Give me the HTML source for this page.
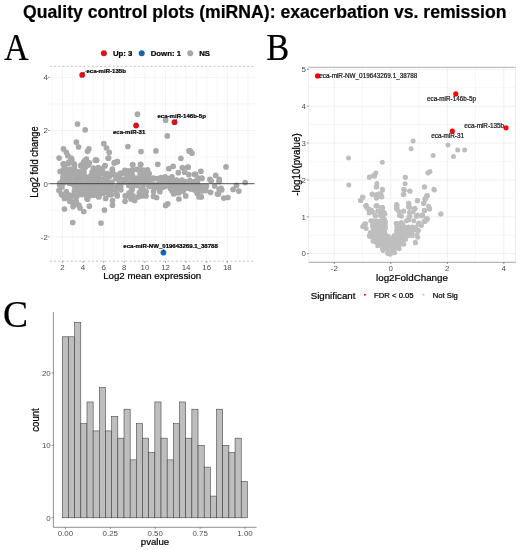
<!DOCTYPE html><html><head><meta charset="utf-8"><style>html,body{margin:0;padding:0;background:#fff;width:520px;height:550px;overflow:hidden}svg{display:block;will-change:transform;filter:blur(0.4px)}text{stroke-width:0.22px;stroke-linejoin:round}text[fill="#000"]{stroke:#000}text[fill="#1a1a1a"]{stroke:#1a1a1a}</style></head><body>
<svg width="520" height="550" viewBox="0 0 520 550">
<rect width="520" height="550" fill="#fff"/>
<text x="264.8" y="17.7" text-anchor="middle" font-family="Liberation Sans, sans-serif" font-weight="bold" font-size="17.62" fill="#000">Quality control plots (miRNA): exacerbation vs. remission</text>
<text transform="translate(4.0,59.6) scale(0.91,1)" font-family="Liberation Serif, serif" font-size="37.5" fill="#000">A</text>
<text transform="translate(266.2,59.8) scale(0.92,1)" font-family="Liberation Serif, serif" font-size="37.5" fill="#000">B</text>
<text x="3.0" y="326.8" font-family="Liberation Serif, serif" font-size="37.5" fill="#000">C</text>
<line x1="52.11" y1="66.3" x2="52.11" y2="261.2" stroke="#EFEFEF" stroke-width="0.45"/>
<line x1="62.42" y1="66.3" x2="62.42" y2="261.2" stroke="#EFEFEF" stroke-width="0.7"/>
<line x1="72.73" y1="66.3" x2="72.73" y2="261.2" stroke="#EFEFEF" stroke-width="0.45"/>
<line x1="83.04" y1="66.3" x2="83.04" y2="261.2" stroke="#EFEFEF" stroke-width="0.7"/>
<line x1="93.35" y1="66.3" x2="93.35" y2="261.2" stroke="#EFEFEF" stroke-width="0.45"/>
<line x1="103.66" y1="66.3" x2="103.66" y2="261.2" stroke="#EFEFEF" stroke-width="0.7"/>
<line x1="113.97" y1="66.3" x2="113.97" y2="261.2" stroke="#EFEFEF" stroke-width="0.45"/>
<line x1="124.28" y1="66.3" x2="124.28" y2="261.2" stroke="#EFEFEF" stroke-width="0.7"/>
<line x1="134.59" y1="66.3" x2="134.59" y2="261.2" stroke="#EFEFEF" stroke-width="0.45"/>
<line x1="144.90" y1="66.3" x2="144.90" y2="261.2" stroke="#EFEFEF" stroke-width="0.7"/>
<line x1="155.21" y1="66.3" x2="155.21" y2="261.2" stroke="#EFEFEF" stroke-width="0.45"/>
<line x1="165.52" y1="66.3" x2="165.52" y2="261.2" stroke="#EFEFEF" stroke-width="0.7"/>
<line x1="175.83" y1="66.3" x2="175.83" y2="261.2" stroke="#EFEFEF" stroke-width="0.45"/>
<line x1="186.14" y1="66.3" x2="186.14" y2="261.2" stroke="#EFEFEF" stroke-width="0.7"/>
<line x1="196.45" y1="66.3" x2="196.45" y2="261.2" stroke="#EFEFEF" stroke-width="0.45"/>
<line x1="206.76" y1="66.3" x2="206.76" y2="261.2" stroke="#EFEFEF" stroke-width="0.7"/>
<line x1="217.07" y1="66.3" x2="217.07" y2="261.2" stroke="#EFEFEF" stroke-width="0.45"/>
<line x1="227.38" y1="66.3" x2="227.38" y2="261.2" stroke="#EFEFEF" stroke-width="0.7"/>
<line x1="237.69" y1="66.3" x2="237.69" y2="261.2" stroke="#EFEFEF" stroke-width="0.45"/>
<line x1="248.00" y1="66.3" x2="248.00" y2="261.2" stroke="#EFEFEF" stroke-width="0.7"/>
<line x1="49.8" y1="236.90" x2="254.5" y2="236.90" stroke="#EDEDED" stroke-width="0.75"/>
<line x1="49.8" y1="210.30" x2="254.5" y2="210.30" stroke="#EDEDED" stroke-width="0.5"/>
<line x1="49.8" y1="183.70" x2="254.5" y2="183.70" stroke="#EDEDED" stroke-width="0.75"/>
<line x1="49.8" y1="157.10" x2="254.5" y2="157.10" stroke="#EDEDED" stroke-width="0.5"/>
<line x1="49.8" y1="130.50" x2="254.5" y2="130.50" stroke="#EDEDED" stroke-width="0.75"/>
<line x1="49.8" y1="103.90" x2="254.5" y2="103.90" stroke="#EDEDED" stroke-width="0.5"/>
<line x1="49.8" y1="77.30" x2="254.5" y2="77.30" stroke="#EDEDED" stroke-width="0.75"/>
<line x1="49.8" y1="66.3" x2="254.5" y2="66.3" stroke="#9a9a9a" stroke-width="0.6" stroke-dasharray="2,2.2"/>
<line x1="49.8" y1="261.2" x2="254.5" y2="261.2" stroke="#9a9a9a" stroke-width="0.6" stroke-dasharray="2,2.2"/>
<circle cx="77.5" cy="124.0" r="2.85" fill="#A9A9A9"/>
<circle cx="85.2" cy="129.8" r="2.85" fill="#A9A9A9"/>
<circle cx="137.5" cy="114.2" r="2.85" fill="#A9A9A9"/>
<circle cx="165.6" cy="120.3" r="2.85" fill="#A9A9A9"/>
<circle cx="167.3" cy="135.9" r="2.85" fill="#A9A9A9"/>
<circle cx="76.4" cy="142.2" r="2.85" fill="#A9A9A9"/>
<circle cx="78.6" cy="147.0" r="2.85" fill="#A9A9A9"/>
<circle cx="63.5" cy="148.9" r="2.85" fill="#A9A9A9"/>
<circle cx="66.3" cy="152.3" r="2.85" fill="#A9A9A9"/>
<circle cx="88.9" cy="148.9" r="2.85" fill="#A9A9A9"/>
<circle cx="87.5" cy="151.3" r="2.85" fill="#A9A9A9"/>
<circle cx="59.1" cy="158.1" r="2.85" fill="#A9A9A9"/>
<circle cx="67.8" cy="155.7" r="2.85" fill="#A9A9A9"/>
<circle cx="71.2" cy="158.1" r="2.85" fill="#A9A9A9"/>
<circle cx="96.2" cy="160.2" r="2.85" fill="#A9A9A9"/>
<circle cx="86.5" cy="159.0" r="2.85" fill="#A9A9A9"/>
<circle cx="63.5" cy="163.8" r="2.85" fill="#A9A9A9"/>
<circle cx="74.0" cy="163.8" r="2.85" fill="#A9A9A9"/>
<circle cx="83.7" cy="161.9" r="2.85" fill="#A9A9A9"/>
<circle cx="89.4" cy="162.9" r="2.85" fill="#A9A9A9"/>
<circle cx="80.8" cy="165.8" r="2.85" fill="#A9A9A9"/>
<circle cx="86.5" cy="165.8" r="2.85" fill="#A9A9A9"/>
<circle cx="69.2" cy="161.9" r="2.85" fill="#A9A9A9"/>
<circle cx="103.8" cy="143.7" r="2.85" fill="#A9A9A9"/>
<circle cx="106.5" cy="148.0" r="2.85" fill="#A9A9A9"/>
<circle cx="109.2" cy="152.3" r="2.85" fill="#A9A9A9"/>
<circle cx="108.3" cy="158.3" r="2.85" fill="#A9A9A9"/>
<circle cx="114.2" cy="162.9" r="2.85" fill="#A9A9A9"/>
<circle cx="117.3" cy="161.7" r="2.85" fill="#A9A9A9"/>
<circle cx="104.6" cy="166.0" r="2.85" fill="#A9A9A9"/>
<circle cx="112.3" cy="169.1" r="2.85" fill="#A9A9A9"/>
<circle cx="127.9" cy="146.5" r="2.85" fill="#A9A9A9"/>
<circle cx="141.0" cy="151.5" r="2.85" fill="#A9A9A9"/>
<circle cx="132.7" cy="164.8" r="2.85" fill="#A9A9A9"/>
<circle cx="140.7" cy="164.6" r="2.85" fill="#A9A9A9"/>
<circle cx="101.7" cy="169.1" r="2.85" fill="#A9A9A9"/>
<circle cx="155.9" cy="150.9" r="2.85" fill="#A9A9A9"/>
<circle cx="180.9" cy="158.3" r="2.85" fill="#A9A9A9"/>
<circle cx="189.0" cy="150.9" r="2.85" fill="#A9A9A9"/>
<circle cx="157.8" cy="164.3" r="2.85" fill="#A9A9A9"/>
<circle cx="173.2" cy="166.3" r="2.85" fill="#A9A9A9"/>
<circle cx="168.8" cy="168.7" r="2.85" fill="#A9A9A9"/>
<circle cx="182.3" cy="167.7" r="2.85" fill="#A9A9A9"/>
<circle cx="188.1" cy="167.2" r="2.85" fill="#A9A9A9"/>
<circle cx="190.1" cy="150.9" r="2.85" fill="#A9A9A9"/>
<circle cx="192.0" cy="153.2" r="2.85" fill="#A9A9A9"/>
<circle cx="187.7" cy="167.3" r="2.85" fill="#A9A9A9"/>
<circle cx="226.0" cy="166.9" r="2.85" fill="#A9A9A9"/>
<circle cx="200.9" cy="171.3" r="2.85" fill="#A9A9A9"/>
<circle cx="188.8" cy="174.7" r="2.85" fill="#A9A9A9"/>
<circle cx="194.4" cy="174.3" r="2.85" fill="#A9A9A9"/>
<circle cx="215.7" cy="175.4" r="2.85" fill="#A9A9A9"/>
<circle cx="198.5" cy="178.1" r="2.85" fill="#A9A9A9"/>
<circle cx="201.8" cy="178.1" r="2.85" fill="#A9A9A9"/>
<circle cx="209.9" cy="179.4" r="2.85" fill="#A9A9A9"/>
<circle cx="219.3" cy="179.4" r="2.85" fill="#A9A9A9"/>
<circle cx="72.7" cy="222.5" r="2.85" fill="#A9A9A9"/>
<circle cx="101.0" cy="223.1" r="2.85" fill="#A9A9A9"/>
<circle cx="64.4" cy="209.0" r="2.85" fill="#A9A9A9"/>
<circle cx="89.4" cy="206.2" r="2.85" fill="#A9A9A9"/>
<circle cx="83.7" cy="211.5" r="2.85" fill="#A9A9A9"/>
<circle cx="104.4" cy="210.0" r="2.85" fill="#A9A9A9"/>
<circle cx="112.5" cy="205.2" r="2.85" fill="#A9A9A9"/>
<circle cx="125.0" cy="201.3" r="2.85" fill="#A9A9A9"/>
<circle cx="134.6" cy="200.4" r="2.85" fill="#A9A9A9"/>
<circle cx="145.2" cy="192.7" r="2.85" fill="#A9A9A9"/>
<circle cx="59.1" cy="190.3" r="2.85" fill="#A9A9A9"/>
<circle cx="61.5" cy="194.1" r="2.85" fill="#A9A9A9"/>
<circle cx="64.4" cy="198.5" r="2.85" fill="#A9A9A9"/>
<circle cx="69.7" cy="201.3" r="2.85" fill="#A9A9A9"/>
<circle cx="73.1" cy="206.6" r="2.85" fill="#A9A9A9"/>
<circle cx="78.8" cy="205.2" r="2.85" fill="#A9A9A9"/>
<circle cx="87.0" cy="198.5" r="2.85" fill="#A9A9A9"/>
<circle cx="98.1" cy="194.6" r="2.85" fill="#A9A9A9"/>
<circle cx="81.7" cy="194.6" r="2.85" fill="#A9A9A9"/>
<circle cx="66.3" cy="191.7" r="2.85" fill="#A9A9A9"/>
<circle cx="59.6" cy="185.0" r="2.85" fill="#A9A9A9"/>
<circle cx="112.5" cy="200.6" r="2.85" fill="#A9A9A9"/>
<circle cx="99.2" cy="195.9" r="2.85" fill="#A9A9A9"/>
<circle cx="105.6" cy="198.5" r="2.85" fill="#A9A9A9"/>
<circle cx="117.2" cy="195.9" r="2.85" fill="#A9A9A9"/>
<circle cx="125.2" cy="195.9" r="2.85" fill="#A9A9A9"/>
<circle cx="133.1" cy="195.9" r="2.85" fill="#A9A9A9"/>
<circle cx="131.5" cy="190.6" r="2.85" fill="#A9A9A9"/>
<circle cx="139.4" cy="192.7" r="2.85" fill="#A9A9A9"/>
<circle cx="149.0" cy="186.3" r="2.85" fill="#A9A9A9"/>
<circle cx="96.6" cy="160.3" r="2.85" fill="#A9A9A9"/>
<circle cx="108.5" cy="158.0" r="2.85" fill="#A9A9A9"/>
<circle cx="114.6" cy="162.6" r="2.85" fill="#A9A9A9"/>
<circle cx="117.2" cy="161.6" r="2.85" fill="#A9A9A9"/>
<circle cx="105.1" cy="165.6" r="2.85" fill="#A9A9A9"/>
<circle cx="102.4" cy="170.3" r="2.85" fill="#A9A9A9"/>
<circle cx="112.5" cy="170.3" r="2.85" fill="#A9A9A9"/>
<circle cx="132.6" cy="164.5" r="2.85" fill="#A9A9A9"/>
<circle cx="140.5" cy="164.3" r="2.85" fill="#A9A9A9"/>
<circle cx="139.4" cy="169.3" r="2.85" fill="#A9A9A9"/>
<circle cx="132.6" cy="169.8" r="2.85" fill="#A9A9A9"/>
<circle cx="122.0" cy="173.0" r="2.85" fill="#A9A9A9"/>
<circle cx="127.8" cy="173.5" r="2.85" fill="#A9A9A9"/>
<circle cx="95.5" cy="174.0" r="2.85" fill="#A9A9A9"/>
<circle cx="106.6" cy="174.6" r="2.85" fill="#A9A9A9"/>
<circle cx="116.2" cy="175.6" r="2.85" fill="#A9A9A9"/>
<circle cx="143.7" cy="173.5" r="2.85" fill="#A9A9A9"/>
<circle cx="148.4" cy="173.0" r="2.85" fill="#A9A9A9"/>
<circle cx="178.3" cy="172.7" r="2.85" fill="#A9A9A9"/>
<circle cx="184.7" cy="172.2" r="2.85" fill="#A9A9A9"/>
<circle cx="149.2" cy="173.8" r="2.85" fill="#A9A9A9"/>
<circle cx="153.5" cy="178.0" r="2.85" fill="#A9A9A9"/>
<circle cx="147.1" cy="179.0" r="2.85" fill="#A9A9A9"/>
<circle cx="160.9" cy="177.5" r="2.85" fill="#A9A9A9"/>
<circle cx="165.1" cy="176.9" r="2.85" fill="#A9A9A9"/>
<circle cx="172.0" cy="176.9" r="2.85" fill="#A9A9A9"/>
<circle cx="176.7" cy="180.1" r="2.85" fill="#A9A9A9"/>
<circle cx="182.0" cy="180.1" r="2.85" fill="#A9A9A9"/>
<circle cx="196.9" cy="180.1" r="2.85" fill="#A9A9A9"/>
<circle cx="151.3" cy="186.5" r="2.85" fill="#A9A9A9"/>
<circle cx="156.6" cy="185.9" r="2.85" fill="#A9A9A9"/>
<circle cx="164.6" cy="186.5" r="2.85" fill="#A9A9A9"/>
<circle cx="171.5" cy="185.4" r="2.85" fill="#A9A9A9"/>
<circle cx="176.7" cy="187.5" r="2.85" fill="#A9A9A9"/>
<circle cx="184.2" cy="185.4" r="2.85" fill="#A9A9A9"/>
<circle cx="188.4" cy="186.5" r="2.85" fill="#A9A9A9"/>
<circle cx="197.4" cy="185.4" r="2.85" fill="#A9A9A9"/>
<circle cx="146.1" cy="191.7" r="2.85" fill="#A9A9A9"/>
<circle cx="159.8" cy="191.7" r="2.85" fill="#A9A9A9"/>
<circle cx="172.0" cy="190.7" r="2.85" fill="#A9A9A9"/>
<circle cx="175.7" cy="192.8" r="2.85" fill="#A9A9A9"/>
<circle cx="183.1" cy="191.2" r="2.85" fill="#A9A9A9"/>
<circle cx="196.9" cy="191.7" r="2.85" fill="#A9A9A9"/>
<circle cx="153.5" cy="191.6" r="2.85" fill="#A9A9A9"/>
<circle cx="153.5" cy="196.4" r="2.85" fill="#A9A9A9"/>
<circle cx="156.6" cy="197.5" r="2.85" fill="#A9A9A9"/>
<circle cx="170.4" cy="188.5" r="2.85" fill="#A9A9A9"/>
<circle cx="173.6" cy="193.8" r="2.85" fill="#A9A9A9"/>
<circle cx="178.9" cy="192.7" r="2.85" fill="#A9A9A9"/>
<circle cx="178.9" cy="199.0" r="2.85" fill="#A9A9A9"/>
<circle cx="185.7" cy="195.9" r="2.85" fill="#A9A9A9"/>
<circle cx="165.6" cy="205.4" r="2.85" fill="#A9A9A9"/>
<circle cx="167.8" cy="203.8" r="2.85" fill="#A9A9A9"/>
<circle cx="199.0" cy="196.9" r="2.85" fill="#A9A9A9"/>
<circle cx="196.9" cy="186.3" r="2.85" fill="#A9A9A9"/>
<circle cx="195.6" cy="174.4" r="2.85" fill="#A9A9A9"/>
<circle cx="201.9" cy="178.5" r="2.85" fill="#A9A9A9"/>
<circle cx="211.1" cy="180.8" r="2.85" fill="#A9A9A9"/>
<circle cx="219.2" cy="181.3" r="2.85" fill="#A9A9A9"/>
<circle cx="245.2" cy="182.5" r="2.85" fill="#A9A9A9"/>
<circle cx="196.2" cy="185.4" r="2.85" fill="#A9A9A9"/>
<circle cx="201.9" cy="186.5" r="2.85" fill="#A9A9A9"/>
<circle cx="206.5" cy="186.0" r="2.85" fill="#A9A9A9"/>
<circle cx="214.6" cy="186.0" r="2.85" fill="#A9A9A9"/>
<circle cx="221.0" cy="188.3" r="2.85" fill="#A9A9A9"/>
<circle cx="236.5" cy="185.4" r="2.85" fill="#A9A9A9"/>
<circle cx="233.1" cy="189.4" r="2.85" fill="#A9A9A9"/>
<circle cx="238.8" cy="191.1" r="2.85" fill="#A9A9A9"/>
<circle cx="197.3" cy="193.4" r="2.85" fill="#A9A9A9"/>
<circle cx="210.6" cy="192.3" r="2.85" fill="#A9A9A9"/>
<circle cx="217.5" cy="194.0" r="2.85" fill="#A9A9A9"/>
<circle cx="201.3" cy="196.9" r="2.85" fill="#A9A9A9"/>
<circle cx="223.8" cy="198.1" r="2.85" fill="#A9A9A9"/>
<circle cx="227.9" cy="197.5" r="2.85" fill="#A9A9A9"/>
<circle cx="206.0" cy="190.6" r="2.85" fill="#A9A9A9"/>
<circle cx="202.0" cy="191.0" r="2.85" fill="#A9A9A9"/>
<circle cx="219.1" cy="181.6" r="2.85" fill="#A9A9A9"/>
<circle cx="219.1" cy="189.1" r="2.85" fill="#A9A9A9"/>
<circle cx="221.8" cy="189.8" r="2.85" fill="#A9A9A9"/>
<circle cx="218.4" cy="193.9" r="2.85" fill="#A9A9A9"/>
<circle cx="63.2" cy="164.1" r="2.85" fill="#A9A9A9"/>
<circle cx="68.4" cy="163.2" r="2.85" fill="#A9A9A9"/>
<circle cx="71.9" cy="159.7" r="2.85" fill="#A9A9A9"/>
<circle cx="74.5" cy="164.9" r="2.85" fill="#A9A9A9"/>
<circle cx="81.4" cy="164.9" r="2.85" fill="#A9A9A9"/>
<circle cx="84.9" cy="160.6" r="2.85" fill="#A9A9A9"/>
<circle cx="88.3" cy="164.9" r="2.85" fill="#A9A9A9"/>
<circle cx="95.3" cy="160.2" r="2.85" fill="#A9A9A9"/>
<circle cx="60.2" cy="171.4" r="2.85" fill="#A9A9A9"/>
<circle cx="65.0" cy="171.0" r="2.85" fill="#A9A9A9"/>
<circle cx="70.2" cy="169.2" r="2.85" fill="#A9A9A9"/>
<circle cx="74.5" cy="169.2" r="2.85" fill="#A9A9A9"/>
<circle cx="73.6" cy="173.1" r="2.85" fill="#A9A9A9"/>
<circle cx="84.0" cy="171.8" r="2.85" fill="#A9A9A9"/>
<circle cx="80.5" cy="175.3" r="2.85" fill="#A9A9A9"/>
<circle cx="63.2" cy="176.2" r="2.85" fill="#A9A9A9"/>
<circle cx="69.3" cy="176.2" r="2.85" fill="#A9A9A9"/>
<circle cx="76.2" cy="176.6" r="2.85" fill="#A9A9A9"/>
<circle cx="91.8" cy="174.4" r="2.85" fill="#A9A9A9"/>
<circle cx="87.5" cy="177.9" r="2.85" fill="#A9A9A9"/>
<circle cx="94.4" cy="175.7" r="2.85" fill="#A9A9A9"/>
<circle cx="62.4" cy="180.5" r="2.85" fill="#A9A9A9"/>
<circle cx="67.6" cy="180.5" r="2.85" fill="#A9A9A9"/>
<circle cx="73.6" cy="180.5" r="2.85" fill="#A9A9A9"/>
<circle cx="80.5" cy="180.5" r="2.85" fill="#A9A9A9"/>
<circle cx="86.6" cy="180.5" r="2.85" fill="#A9A9A9"/>
<circle cx="92.7" cy="179.6" r="2.85" fill="#A9A9A9"/>
<circle cx="59.8" cy="183.1" r="2.85" fill="#A9A9A9"/>
<circle cx="59.2" cy="190.5" r="2.85" fill="#A9A9A9"/>
<circle cx="61.6" cy="194.8" r="2.85" fill="#A9A9A9"/>
<circle cx="64.5" cy="197.2" r="2.85" fill="#A9A9A9"/>
<circle cx="87.6" cy="199.2" r="2.85" fill="#A9A9A9"/>
<circle cx="76.0" cy="201.0" r="2.85" fill="#A9A9A9"/>
<circle cx="63.6" cy="169.3" r="2.85" fill="#A9A9A9"/>
<circle cx="64.1" cy="173.7" r="2.85" fill="#A9A9A9"/>
<circle cx="67.1" cy="174.0" r="2.85" fill="#A9A9A9"/>
<circle cx="63.1" cy="177.9" r="2.85" fill="#A9A9A9"/>
<circle cx="67.1" cy="177.2" r="2.85" fill="#A9A9A9"/>
<circle cx="63.8" cy="182.7" r="2.85" fill="#A9A9A9"/>
<circle cx="67.2" cy="181.4" r="2.85" fill="#A9A9A9"/>
<circle cx="82.7" cy="167.6" r="2.85" fill="#A9A9A9"/>
<circle cx="85.3" cy="167.2" r="2.85" fill="#A9A9A9"/>
<circle cx="93.4" cy="168.2" r="2.85" fill="#A9A9A9"/>
<circle cx="98.3" cy="167.7" r="2.85" fill="#A9A9A9"/>
<circle cx="70.1" cy="171.1" r="2.85" fill="#A9A9A9"/>
<circle cx="73.1" cy="171.4" r="2.85" fill="#A9A9A9"/>
<circle cx="78.4" cy="171.9" r="2.85" fill="#A9A9A9"/>
<circle cx="81.6" cy="172.2" r="2.85" fill="#A9A9A9"/>
<circle cx="93.5" cy="172.1" r="2.85" fill="#A9A9A9"/>
<circle cx="98.1" cy="172.8" r="2.85" fill="#A9A9A9"/>
<circle cx="70.5" cy="175.6" r="2.85" fill="#A9A9A9"/>
<circle cx="75.0" cy="175.2" r="2.85" fill="#A9A9A9"/>
<circle cx="77.8" cy="176.5" r="2.85" fill="#A9A9A9"/>
<circle cx="81.3" cy="176.0" r="2.85" fill="#A9A9A9"/>
<circle cx="85.1" cy="176.3" r="2.85" fill="#A9A9A9"/>
<circle cx="90.5" cy="176.1" r="2.85" fill="#A9A9A9"/>
<circle cx="94.8" cy="175.6" r="2.85" fill="#A9A9A9"/>
<circle cx="98.4" cy="176.2" r="2.85" fill="#A9A9A9"/>
<circle cx="70.2" cy="179.9" r="2.85" fill="#A9A9A9"/>
<circle cx="74.7" cy="180.9" r="2.85" fill="#A9A9A9"/>
<circle cx="77.9" cy="180.3" r="2.85" fill="#A9A9A9"/>
<circle cx="81.1" cy="180.4" r="2.85" fill="#A9A9A9"/>
<circle cx="86.3" cy="181.0" r="2.85" fill="#A9A9A9"/>
<circle cx="90.6" cy="179.6" r="2.85" fill="#A9A9A9"/>
<circle cx="93.8" cy="180.3" r="2.85" fill="#A9A9A9"/>
<circle cx="97.0" cy="179.9" r="2.85" fill="#A9A9A9"/>
<circle cx="69.3" cy="183.2" r="2.85" fill="#A9A9A9"/>
<circle cx="73.1" cy="184.5" r="2.85" fill="#A9A9A9"/>
<circle cx="77.3" cy="183.5" r="2.85" fill="#A9A9A9"/>
<circle cx="81.8" cy="184.7" r="2.85" fill="#A9A9A9"/>
<circle cx="85.2" cy="183.9" r="2.85" fill="#A9A9A9"/>
<circle cx="90.1" cy="184.8" r="2.85" fill="#A9A9A9"/>
<circle cx="94.6" cy="184.7" r="2.85" fill="#A9A9A9"/>
<circle cx="97.6" cy="183.8" r="2.85" fill="#A9A9A9"/>
<circle cx="74.9" cy="187.3" r="2.85" fill="#A9A9A9"/>
<circle cx="77.4" cy="187.5" r="2.85" fill="#A9A9A9"/>
<circle cx="81.5" cy="188.0" r="2.85" fill="#A9A9A9"/>
<circle cx="86.2" cy="187.5" r="2.85" fill="#A9A9A9"/>
<circle cx="89.0" cy="187.8" r="2.85" fill="#A9A9A9"/>
<circle cx="93.7" cy="188.1" r="2.85" fill="#A9A9A9"/>
<circle cx="98.9" cy="188.4" r="2.85" fill="#A9A9A9"/>
<circle cx="74.4" cy="191.1" r="2.85" fill="#A9A9A9"/>
<circle cx="78.8" cy="192.6" r="2.85" fill="#A9A9A9"/>
<circle cx="82.7" cy="192.6" r="2.85" fill="#A9A9A9"/>
<circle cx="85.8" cy="191.8" r="2.85" fill="#A9A9A9"/>
<circle cx="89.2" cy="192.3" r="2.85" fill="#A9A9A9"/>
<circle cx="93.1" cy="191.1" r="2.85" fill="#A9A9A9"/>
<circle cx="97.4" cy="191.3" r="2.85" fill="#A9A9A9"/>
<circle cx="69.7" cy="195.1" r="2.85" fill="#A9A9A9"/>
<circle cx="73.0" cy="195.3" r="2.85" fill="#A9A9A9"/>
<circle cx="77.2" cy="195.7" r="2.85" fill="#A9A9A9"/>
<circle cx="86.2" cy="195.3" r="2.85" fill="#A9A9A9"/>
<circle cx="89.5" cy="195.7" r="2.85" fill="#A9A9A9"/>
<circle cx="93.7" cy="195.2" r="2.85" fill="#A9A9A9"/>
<circle cx="98.7" cy="197.0" r="2.85" fill="#A9A9A9"/>
<circle cx="99.9" cy="174.0" r="2.85" fill="#A9A9A9"/>
<circle cx="103.2" cy="173.2" r="2.85" fill="#A9A9A9"/>
<circle cx="107.7" cy="173.5" r="2.85" fill="#A9A9A9"/>
<circle cx="112.7" cy="173.3" r="2.85" fill="#A9A9A9"/>
<circle cx="115.0" cy="174.9" r="2.85" fill="#A9A9A9"/>
<circle cx="120.1" cy="173.3" r="2.85" fill="#A9A9A9"/>
<circle cx="124.1" cy="173.1" r="2.85" fill="#A9A9A9"/>
<circle cx="100.1" cy="179.0" r="2.85" fill="#A9A9A9"/>
<circle cx="104.7" cy="178.4" r="2.85" fill="#A9A9A9"/>
<circle cx="107.5" cy="177.7" r="2.85" fill="#A9A9A9"/>
<circle cx="116.1" cy="178.6" r="2.85" fill="#A9A9A9"/>
<circle cx="119.7" cy="177.4" r="2.85" fill="#A9A9A9"/>
<circle cx="124.6" cy="179.0" r="2.85" fill="#A9A9A9"/>
<circle cx="100.7" cy="182.6" r="2.85" fill="#A9A9A9"/>
<circle cx="104.6" cy="182.5" r="2.85" fill="#A9A9A9"/>
<circle cx="107.5" cy="182.0" r="2.85" fill="#A9A9A9"/>
<circle cx="119.5" cy="182.4" r="2.85" fill="#A9A9A9"/>
<circle cx="124.9" cy="181.9" r="2.85" fill="#A9A9A9"/>
<circle cx="100.9" cy="187.0" r="2.85" fill="#A9A9A9"/>
<circle cx="104.9" cy="185.7" r="2.85" fill="#A9A9A9"/>
<circle cx="107.4" cy="185.5" r="2.85" fill="#A9A9A9"/>
<circle cx="111.4" cy="185.4" r="2.85" fill="#A9A9A9"/>
<circle cx="116.2" cy="186.8" r="2.85" fill="#A9A9A9"/>
<circle cx="120.7" cy="186.0" r="2.85" fill="#A9A9A9"/>
<circle cx="99.2" cy="190.3" r="2.85" fill="#A9A9A9"/>
<circle cx="104.8" cy="190.6" r="2.85" fill="#A9A9A9"/>
<circle cx="108.5" cy="190.0" r="2.85" fill="#A9A9A9"/>
<circle cx="111.4" cy="190.6" r="2.85" fill="#A9A9A9"/>
<circle cx="115.7" cy="190.6" r="2.85" fill="#A9A9A9"/>
<circle cx="120.9" cy="189.8" r="2.85" fill="#A9A9A9"/>
<circle cx="100.4" cy="193.3" r="2.85" fill="#A9A9A9"/>
<circle cx="103.3" cy="193.3" r="2.85" fill="#A9A9A9"/>
<circle cx="108.8" cy="194.6" r="2.85" fill="#A9A9A9"/>
<circle cx="111.3" cy="194.7" r="2.85" fill="#A9A9A9"/>
<circle cx="117.0" cy="194.3" r="2.85" fill="#A9A9A9"/>
<circle cx="124.9" cy="170.3" r="2.85" fill="#A9A9A9"/>
<circle cx="128.1" cy="170.9" r="2.85" fill="#A9A9A9"/>
<circle cx="131.9" cy="170.7" r="2.85" fill="#A9A9A9"/>
<circle cx="136.7" cy="169.4" r="2.85" fill="#A9A9A9"/>
<circle cx="139.5" cy="169.6" r="2.85" fill="#A9A9A9"/>
<circle cx="143.5" cy="170.2" r="2.85" fill="#A9A9A9"/>
<circle cx="147.5" cy="169.8" r="2.85" fill="#A9A9A9"/>
<circle cx="127.7" cy="173.9" r="2.85" fill="#A9A9A9"/>
<circle cx="132.2" cy="174.8" r="2.85" fill="#A9A9A9"/>
<circle cx="140.0" cy="174.1" r="2.85" fill="#A9A9A9"/>
<circle cx="144.0" cy="173.0" r="2.85" fill="#A9A9A9"/>
<circle cx="147.9" cy="173.4" r="2.85" fill="#A9A9A9"/>
<circle cx="127.3" cy="177.9" r="2.85" fill="#A9A9A9"/>
<circle cx="132.5" cy="178.1" r="2.85" fill="#A9A9A9"/>
<circle cx="135.7" cy="178.0" r="2.85" fill="#A9A9A9"/>
<circle cx="140.1" cy="178.6" r="2.85" fill="#A9A9A9"/>
<circle cx="143.2" cy="178.1" r="2.85" fill="#A9A9A9"/>
<circle cx="147.5" cy="177.6" r="2.85" fill="#A9A9A9"/>
<circle cx="124.5" cy="182.0" r="2.85" fill="#A9A9A9"/>
<circle cx="128.1" cy="182.5" r="2.85" fill="#A9A9A9"/>
<circle cx="132.8" cy="181.9" r="2.85" fill="#A9A9A9"/>
<circle cx="136.2" cy="182.0" r="2.85" fill="#A9A9A9"/>
<circle cx="140.0" cy="182.4" r="2.85" fill="#A9A9A9"/>
<circle cx="143.9" cy="182.1" r="2.85" fill="#A9A9A9"/>
<circle cx="148.0" cy="182.9" r="2.85" fill="#A9A9A9"/>
<circle cx="128.9" cy="185.5" r="2.85" fill="#A9A9A9"/>
<circle cx="132.1" cy="186.9" r="2.85" fill="#A9A9A9"/>
<circle cx="136.7" cy="185.3" r="2.85" fill="#A9A9A9"/>
<circle cx="143.1" cy="185.5" r="2.85" fill="#A9A9A9"/>
<circle cx="132.3" cy="189.3" r="2.85" fill="#A9A9A9"/>
<circle cx="143.8" cy="190.0" r="2.85" fill="#A9A9A9"/>
<circle cx="149.3" cy="178.9" r="2.85" fill="#A9A9A9"/>
<circle cx="154.0" cy="178.7" r="2.85" fill="#A9A9A9"/>
<circle cx="157.4" cy="178.6" r="2.85" fill="#A9A9A9"/>
<circle cx="162.4" cy="178.0" r="2.85" fill="#A9A9A9"/>
<circle cx="166.1" cy="178.9" r="2.85" fill="#A9A9A9"/>
<circle cx="169.0" cy="178.7" r="2.85" fill="#A9A9A9"/>
<circle cx="150.2" cy="183.0" r="2.85" fill="#A9A9A9"/>
<circle cx="153.1" cy="184.0" r="2.85" fill="#A9A9A9"/>
<circle cx="158.6" cy="183.9" r="2.85" fill="#A9A9A9"/>
<circle cx="161.2" cy="182.5" r="2.85" fill="#A9A9A9"/>
<circle cx="165.1" cy="183.6" r="2.85" fill="#A9A9A9"/>
<circle cx="169.5" cy="182.3" r="2.85" fill="#A9A9A9"/>
<circle cx="154.6" cy="186.5" r="2.85" fill="#A9A9A9"/>
<circle cx="157.3" cy="187.8" r="2.85" fill="#A9A9A9"/>
<circle cx="162.1" cy="187.4" r="2.85" fill="#A9A9A9"/>
<circle cx="165.2" cy="186.1" r="2.85" fill="#A9A9A9"/>
<circle cx="170.4" cy="186.9" r="2.85" fill="#A9A9A9"/>
<circle cx="173.1" cy="181.9" r="2.85" fill="#A9A9A9"/>
<circle cx="178.3" cy="181.6" r="2.85" fill="#A9A9A9"/>
<circle cx="181.2" cy="181.7" r="2.85" fill="#A9A9A9"/>
<circle cx="185.1" cy="181.7" r="2.85" fill="#A9A9A9"/>
<circle cx="189.9" cy="180.7" r="2.85" fill="#A9A9A9"/>
<circle cx="194.1" cy="181.9" r="2.85" fill="#A9A9A9"/>
<circle cx="197.5" cy="180.3" r="2.85" fill="#A9A9A9"/>
<circle cx="174.1" cy="184.5" r="2.85" fill="#A9A9A9"/>
<circle cx="177.2" cy="184.3" r="2.85" fill="#A9A9A9"/>
<circle cx="181.1" cy="184.4" r="2.85" fill="#A9A9A9"/>
<circle cx="185.6" cy="184.6" r="2.85" fill="#A9A9A9"/>
<circle cx="190.5" cy="184.6" r="2.85" fill="#A9A9A9"/>
<circle cx="194.0" cy="184.4" r="2.85" fill="#A9A9A9"/>
<circle cx="197.7" cy="184.0" r="2.85" fill="#A9A9A9"/>
<circle cx="173.5" cy="188.0" r="2.85" fill="#A9A9A9"/>
<circle cx="178.5" cy="189.1" r="2.85" fill="#A9A9A9"/>
<circle cx="181.4" cy="188.9" r="2.85" fill="#A9A9A9"/>
<circle cx="186.9" cy="188.2" r="2.85" fill="#A9A9A9"/>
<circle cx="190.6" cy="188.9" r="2.85" fill="#A9A9A9"/>
<circle cx="194.0" cy="189.7" r="2.85" fill="#A9A9A9"/>
<circle cx="197.8" cy="189.0" r="2.85" fill="#A9A9A9"/>
<circle cx="65.0" cy="167.0" r="2.85" fill="#A9A9A9"/>
<circle cx="66.0" cy="170.5" r="2.85" fill="#A9A9A9"/>
<circle cx="94.0" cy="169.0" r="2.85" fill="#A9A9A9"/>
<circle cx="97.0" cy="171.0" r="2.85" fill="#A9A9A9"/>
<circle cx="92.0" cy="172.0" r="2.85" fill="#A9A9A9"/>
<circle cx="110.0" cy="176.0" r="2.85" fill="#A9A9A9"/>
<circle cx="112.0" cy="182.0" r="2.85" fill="#A9A9A9"/>
<circle cx="109.0" cy="184.0" r="2.85" fill="#A9A9A9"/>
<circle cx="67.0" cy="198.0" r="2.85" fill="#A9A9A9"/>
<circle cx="71.0" cy="197.0" r="2.85" fill="#A9A9A9"/>
<circle cx="76.0" cy="197.0" r="2.85" fill="#A9A9A9"/>
<circle cx="72.0" cy="202.0" r="2.85" fill="#A9A9A9"/>
<circle cx="76.0" cy="203.0" r="2.85" fill="#A9A9A9"/>
<circle cx="80.0" cy="208.0" r="2.85" fill="#A9A9A9"/>
<circle cx="68.0" cy="195.0" r="2.85" fill="#A9A9A9"/>
<circle cx="62.0" cy="187.0" r="2.85" fill="#A9A9A9"/>
<circle cx="128.0" cy="196.0" r="2.85" fill="#A9A9A9"/>
<circle cx="131.0" cy="199.0" r="2.85" fill="#A9A9A9"/>
<circle cx="138.0" cy="197.0" r="2.85" fill="#A9A9A9"/>
<circle cx="142.0" cy="196.0" r="2.85" fill="#A9A9A9"/>
<circle cx="129.0" cy="193.0" r="2.85" fill="#A9A9A9"/>
<circle cx="141.0" cy="188.0" r="2.85" fill="#A9A9A9"/>
<circle cx="146.0" cy="196.0" r="2.85" fill="#A9A9A9"/>
<line x1="49.8" y1="183.70" x2="254.5" y2="183.70" stroke="#2b2b2b" stroke-width="0.8"/>
<circle cx="82.2" cy="74.9" r="2.9" fill="#D7141C"/>
<circle cx="136.1" cy="125.5" r="2.9" fill="#D7141C"/>
<circle cx="174.5" cy="122.2" r="2.9" fill="#D7141C"/>
<circle cx="163.4" cy="252.6" r="2.9" fill="#1466B0"/>
<line x1="83" y1="74" x2="86.5" y2="70.8" stroke="#000" stroke-width="0.5"/>
<line x1="175.5" y1="121" x2="177.5" y2="118.2" stroke="#000" stroke-width="0.5"/>
<line x1="163.4" y1="251" x2="163.8" y2="249" stroke="#000" stroke-width="0.5"/>
<text x="86.5" y="73.0" font-family="Liberation Sans, sans-serif" font-weight="bold" font-size="6.05" fill="#000">eca-miR-135b</text>
<text x="157.5" y="117.6" font-family="Liberation Sans, sans-serif" font-weight="bold" font-size="6.05" fill="#000">eca-miR-146b-5p</text>
<text x="113" y="134.2" font-family="Liberation Sans, sans-serif" font-weight="bold" font-size="6.05" fill="#000">eca-miR-31</text>
<text x="123.3" y="248.2" font-family="Liberation Sans, sans-serif" font-weight="bold" font-size="6.05" fill="#000">eca-miR-NW_019643269.1_38788</text>
<circle cx="103.9" cy="53.3" r="3" fill="#D7141C"/>
<circle cx="141.7" cy="53.3" r="3" fill="#1466B0"/>
<circle cx="190.2" cy="53.3" r="3" fill="#A9A9A9"/>
<text x="112.9" y="56.1" font-family="Liberation Sans, sans-serif" font-weight="bold" font-size="7.8" fill="#000">Up: 3</text>
<text x="150.7" y="56.1" font-family="Liberation Sans, sans-serif" font-weight="bold" font-size="7.8" fill="#000">Down: 1</text>
<text x="199.2" y="56.1" font-family="Liberation Sans, sans-serif" font-weight="bold" font-size="7.8" fill="#000">NS</text>
<line x1="48.2" y1="236.90" x2="49.8" y2="236.90" stroke="#333" stroke-width="0.5"/>
<text x="47.8" y="239.70" text-anchor="end" font-family="Liberation Sans, sans-serif" font-size="7.9" fill="#4D4D4D">-2</text>
<line x1="48.2" y1="183.70" x2="49.8" y2="183.70" stroke="#333" stroke-width="0.5"/>
<text x="47.8" y="186.50" text-anchor="end" font-family="Liberation Sans, sans-serif" font-size="7.9" fill="#4D4D4D">0</text>
<line x1="48.2" y1="130.50" x2="49.8" y2="130.50" stroke="#333" stroke-width="0.5"/>
<text x="47.8" y="133.30" text-anchor="end" font-family="Liberation Sans, sans-serif" font-size="7.9" fill="#4D4D4D">2</text>
<line x1="48.2" y1="77.30" x2="49.8" y2="77.30" stroke="#333" stroke-width="0.5"/>
<text x="47.8" y="80.10" text-anchor="end" font-family="Liberation Sans, sans-serif" font-size="7.9" fill="#4D4D4D">4</text>
<line x1="62.42" y1="261.2" x2="62.42" y2="262.8" stroke="#333" stroke-width="0.5"/>
<text x="62.42" y="270.10" text-anchor="middle" font-family="Liberation Sans, sans-serif" font-size="7.9" fill="#4D4D4D">2</text>
<line x1="83.04" y1="261.2" x2="83.04" y2="262.8" stroke="#333" stroke-width="0.5"/>
<text x="83.04" y="270.10" text-anchor="middle" font-family="Liberation Sans, sans-serif" font-size="7.9" fill="#4D4D4D">4</text>
<line x1="103.66" y1="261.2" x2="103.66" y2="262.8" stroke="#333" stroke-width="0.5"/>
<text x="103.66" y="270.10" text-anchor="middle" font-family="Liberation Sans, sans-serif" font-size="7.9" fill="#4D4D4D">6</text>
<line x1="124.28" y1="261.2" x2="124.28" y2="262.8" stroke="#333" stroke-width="0.5"/>
<text x="124.28" y="270.10" text-anchor="middle" font-family="Liberation Sans, sans-serif" font-size="7.9" fill="#4D4D4D">8</text>
<line x1="144.90" y1="261.2" x2="144.90" y2="262.8" stroke="#333" stroke-width="0.5"/>
<text x="144.90" y="270.10" text-anchor="middle" font-family="Liberation Sans, sans-serif" font-size="7.9" fill="#4D4D4D">10</text>
<line x1="165.52" y1="261.2" x2="165.52" y2="262.8" stroke="#333" stroke-width="0.5"/>
<text x="165.52" y="270.10" text-anchor="middle" font-family="Liberation Sans, sans-serif" font-size="7.9" fill="#4D4D4D">12</text>
<line x1="186.14" y1="261.2" x2="186.14" y2="262.8" stroke="#333" stroke-width="0.5"/>
<text x="186.14" y="270.10" text-anchor="middle" font-family="Liberation Sans, sans-serif" font-size="7.9" fill="#4D4D4D">14</text>
<line x1="206.76" y1="261.2" x2="206.76" y2="262.8" stroke="#333" stroke-width="0.5"/>
<text x="206.76" y="270.10" text-anchor="middle" font-family="Liberation Sans, sans-serif" font-size="7.9" fill="#4D4D4D">16</text>
<line x1="227.38" y1="261.2" x2="227.38" y2="262.8" stroke="#333" stroke-width="0.5"/>
<text x="227.38" y="270.10" text-anchor="middle" font-family="Liberation Sans, sans-serif" font-size="7.9" fill="#4D4D4D">18</text>
<text x="152.2" y="279.4" text-anchor="middle" font-family="Liberation Sans, sans-serif" font-size="9.7" fill="#000">Log2 mean expression</text>
<text transform="translate(37.6,162) scale(1.1,1) rotate(-90)" text-anchor="middle" font-family="Liberation Sans, sans-serif" font-size="9.3" fill="#000">Log2 fold change</text>
<line x1="334.30" y1="67.3" x2="334.30" y2="262.3" stroke="#EBEBEB" stroke-width="0.75"/>
<line x1="362.55" y1="67.3" x2="362.55" y2="262.3" stroke="#EBEBEB" stroke-width="0.45"/>
<line x1="390.80" y1="67.3" x2="390.80" y2="262.3" stroke="#EBEBEB" stroke-width="0.75"/>
<line x1="419.05" y1="67.3" x2="419.05" y2="262.3" stroke="#EBEBEB" stroke-width="0.45"/>
<line x1="447.30" y1="67.3" x2="447.30" y2="262.3" stroke="#EBEBEB" stroke-width="0.75"/>
<line x1="475.55" y1="67.3" x2="475.55" y2="262.3" stroke="#EBEBEB" stroke-width="0.45"/>
<line x1="503.80" y1="67.3" x2="503.80" y2="262.3" stroke="#EBEBEB" stroke-width="0.75"/>
<line x1="308.7" y1="253.60" x2="515.5" y2="253.60" stroke="#EBEBEB" stroke-width="0.75"/>
<line x1="308.7" y1="235.17" x2="515.5" y2="235.17" stroke="#EBEBEB" stroke-width="0.45"/>
<line x1="308.7" y1="216.75" x2="515.5" y2="216.75" stroke="#EBEBEB" stroke-width="0.75"/>
<line x1="308.7" y1="198.32" x2="515.5" y2="198.32" stroke="#EBEBEB" stroke-width="0.45"/>
<line x1="308.7" y1="179.90" x2="515.5" y2="179.90" stroke="#EBEBEB" stroke-width="0.75"/>
<line x1="308.7" y1="161.47" x2="515.5" y2="161.47" stroke="#EBEBEB" stroke-width="0.45"/>
<line x1="308.7" y1="143.05" x2="515.5" y2="143.05" stroke="#EBEBEB" stroke-width="0.75"/>
<line x1="308.7" y1="124.62" x2="515.5" y2="124.62" stroke="#EBEBEB" stroke-width="0.45"/>
<line x1="308.7" y1="106.20" x2="515.5" y2="106.20" stroke="#EBEBEB" stroke-width="0.75"/>
<line x1="308.7" y1="87.77" x2="515.5" y2="87.77" stroke="#EBEBEB" stroke-width="0.45"/>
<line x1="308.7" y1="69.35" x2="515.5" y2="69.35" stroke="#EBEBEB" stroke-width="0.75"/>
<circle cx="348.5" cy="158.0" r="2.5" fill="#BEBEBE"/>
<circle cx="382.3" cy="162.3" r="2.5" fill="#BEBEBE"/>
<circle cx="375.8" cy="173.1" r="2.5" fill="#BEBEBE"/>
<circle cx="374.6" cy="176.2" r="2.5" fill="#BEBEBE"/>
<circle cx="369.2" cy="177.2" r="2.5" fill="#BEBEBE"/>
<circle cx="348.8" cy="184.9" r="2.5" fill="#BEBEBE"/>
<circle cx="376.9" cy="183.5" r="2.5" fill="#BEBEBE"/>
<circle cx="376.2" cy="186.9" r="2.5" fill="#BEBEBE"/>
<circle cx="382.3" cy="189.2" r="2.5" fill="#BEBEBE"/>
<circle cx="405.4" cy="177.2" r="2.5" fill="#BEBEBE"/>
<circle cx="405.1" cy="183.8" r="2.5" fill="#BEBEBE"/>
<circle cx="403.8" cy="189.2" r="2.5" fill="#BEBEBE"/>
<circle cx="413.1" cy="141.1" r="2.5" fill="#BEBEBE"/>
<circle cx="411.1" cy="148.8" r="2.5" fill="#BEBEBE"/>
<circle cx="448.0" cy="144.9" r="2.5" fill="#BEBEBE"/>
<circle cx="457.7" cy="150.0" r="2.5" fill="#BEBEBE"/>
<circle cx="464.6" cy="150.0" r="2.5" fill="#BEBEBE"/>
<circle cx="453.5" cy="156.5" r="2.5" fill="#BEBEBE"/>
<circle cx="433.1" cy="155.4" r="2.5" fill="#BEBEBE"/>
<circle cx="430.0" cy="171.5" r="2.5" fill="#BEBEBE"/>
<circle cx="428.0" cy="173.1" r="2.5" fill="#BEBEBE"/>
<circle cx="424.6" cy="186.9" r="2.5" fill="#BEBEBE"/>
<circle cx="433.8" cy="189.2" r="2.5" fill="#BEBEBE"/>
<circle cx="382.5" cy="190.0" r="2.5" fill="#BEBEBE"/>
<circle cx="372.5" cy="194.4" r="2.5" fill="#BEBEBE"/>
<circle cx="379.4" cy="193.8" r="2.5" fill="#BEBEBE"/>
<circle cx="381.9" cy="196.9" r="2.5" fill="#BEBEBE"/>
<circle cx="376.3" cy="197.5" r="2.5" fill="#BEBEBE"/>
<circle cx="362.5" cy="196.9" r="2.5" fill="#BEBEBE"/>
<circle cx="360.6" cy="200.6" r="2.5" fill="#BEBEBE"/>
<circle cx="366.3" cy="205.6" r="2.5" fill="#BEBEBE"/>
<circle cx="368.8" cy="209.4" r="2.5" fill="#BEBEBE"/>
<circle cx="376.9" cy="205.6" r="2.5" fill="#BEBEBE"/>
<circle cx="382.5" cy="207.5" r="2.5" fill="#BEBEBE"/>
<circle cx="372.5" cy="211.9" r="2.5" fill="#BEBEBE"/>
<circle cx="380.0" cy="211.9" r="2.5" fill="#BEBEBE"/>
<circle cx="385.0" cy="213.8" r="2.5" fill="#BEBEBE"/>
<circle cx="375.0" cy="215.0" r="2.5" fill="#BEBEBE"/>
<circle cx="382.5" cy="216.9" r="2.5" fill="#BEBEBE"/>
<circle cx="384.5" cy="220.0" r="2.5" fill="#BEBEBE"/>
<circle cx="376.3" cy="221.3" r="2.5" fill="#BEBEBE"/>
<circle cx="365.6" cy="223.8" r="2.5" fill="#BEBEBE"/>
<circle cx="396.8" cy="205.6" r="2.5" fill="#BEBEBE"/>
<circle cx="404.4" cy="190.0" r="2.5" fill="#BEBEBE"/>
<circle cx="410.0" cy="191.3" r="2.5" fill="#BEBEBE"/>
<circle cx="403.8" cy="194.4" r="2.5" fill="#BEBEBE"/>
<circle cx="427.5" cy="195.6" r="2.5" fill="#BEBEBE"/>
<circle cx="425.0" cy="198.8" r="2.5" fill="#BEBEBE"/>
<circle cx="417.5" cy="200.6" r="2.5" fill="#BEBEBE"/>
<circle cx="423.8" cy="203.5" r="2.5" fill="#BEBEBE"/>
<circle cx="396.9" cy="205.0" r="2.5" fill="#BEBEBE"/>
<circle cx="396.9" cy="208.1" r="2.5" fill="#BEBEBE"/>
<circle cx="408.8" cy="203.8" r="2.5" fill="#BEBEBE"/>
<circle cx="409.4" cy="206.9" r="2.5" fill="#BEBEBE"/>
<circle cx="414.4" cy="208.8" r="2.5" fill="#BEBEBE"/>
<circle cx="429.4" cy="209.0" r="2.5" fill="#BEBEBE"/>
<circle cx="424.4" cy="210.6" r="2.5" fill="#BEBEBE"/>
<circle cx="440.6" cy="214.0" r="2.5" fill="#BEBEBE"/>
<circle cx="398.8" cy="211.3" r="2.5" fill="#BEBEBE"/>
<circle cx="403.8" cy="211.3" r="2.5" fill="#BEBEBE"/>
<circle cx="400.6" cy="215.6" r="2.5" fill="#BEBEBE"/>
<circle cx="409.4" cy="212.5" r="2.5" fill="#BEBEBE"/>
<circle cx="410.0" cy="216.3" r="2.5" fill="#BEBEBE"/>
<circle cx="417.5" cy="215.0" r="2.5" fill="#BEBEBE"/>
<circle cx="422.5" cy="215.0" r="2.5" fill="#BEBEBE"/>
<circle cx="427.5" cy="218.8" r="2.5" fill="#BEBEBE"/>
<circle cx="424.4" cy="221.3" r="2.5" fill="#BEBEBE"/>
<circle cx="418.8" cy="223.1" r="2.5" fill="#BEBEBE"/>
<circle cx="408.8" cy="220.0" r="2.5" fill="#BEBEBE"/>
<circle cx="401.3" cy="222.5" r="2.5" fill="#BEBEBE"/>
<circle cx="396.2" cy="223.2" r="2.5" fill="#BEBEBE"/>
<circle cx="363.8" cy="225.8" r="2.5" fill="#BEBEBE"/>
<circle cx="369.2" cy="235.8" r="2.5" fill="#BEBEBE"/>
<circle cx="373.1" cy="241.2" r="2.5" fill="#BEBEBE"/>
<circle cx="377.7" cy="245.8" r="2.5" fill="#BEBEBE"/>
<circle cx="383.1" cy="250.4" r="2.5" fill="#BEBEBE"/>
<circle cx="387.7" cy="253.5" r="2.5" fill="#BEBEBE"/>
<circle cx="390.3" cy="254.2" r="2.5" fill="#BEBEBE"/>
<circle cx="394.6" cy="252.7" r="2.5" fill="#BEBEBE"/>
<circle cx="399.2" cy="248.8" r="2.5" fill="#BEBEBE"/>
<circle cx="403.8" cy="244.2" r="2.5" fill="#BEBEBE"/>
<circle cx="415.4" cy="242.7" r="2.5" fill="#BEBEBE"/>
<circle cx="417.7" cy="237.3" r="2.5" fill="#BEBEBE"/>
<circle cx="418.5" cy="230.4" r="2.5" fill="#BEBEBE"/>
<circle cx="418.5" cy="224.2" r="2.5" fill="#BEBEBE"/>
<circle cx="425.4" cy="221.2" r="2.5" fill="#BEBEBE"/>
<circle cx="373.5" cy="175.6" r="2.5" fill="#BEBEBE"/>
<circle cx="376.9" cy="186.7" r="2.5" fill="#BEBEBE"/>
<circle cx="372.0" cy="194.3" r="2.5" fill="#BEBEBE"/>
<circle cx="376.6" cy="194.6" r="2.5" fill="#BEBEBE"/>
<circle cx="381.0" cy="193.9" r="2.5" fill="#BEBEBE"/>
<circle cx="376.6" cy="198.2" r="2.5" fill="#BEBEBE"/>
<circle cx="381.0" cy="196.8" r="2.5" fill="#BEBEBE"/>
<circle cx="362.9" cy="197.2" r="2.5" fill="#BEBEBE"/>
<circle cx="360.8" cy="200.4" r="2.5" fill="#BEBEBE"/>
<circle cx="365.8" cy="205.9" r="2.5" fill="#BEBEBE"/>
<circle cx="376.6" cy="206.2" r="2.5" fill="#BEBEBE"/>
<circle cx="382.4" cy="207.6" r="2.5" fill="#BEBEBE"/>
<circle cx="368.7" cy="209.1" r="2.5" fill="#BEBEBE"/>
<circle cx="405.2" cy="177.3" r="2.5" fill="#BEBEBE"/>
<circle cx="404.1" cy="190.3" r="2.5" fill="#BEBEBE"/>
<circle cx="409.8" cy="191.0" r="2.5" fill="#BEBEBE"/>
<circle cx="403.3" cy="194.6" r="2.5" fill="#BEBEBE"/>
<circle cx="396.8" cy="204.7" r="2.5" fill="#BEBEBE"/>
<circle cx="396.8" cy="207.6" r="2.5" fill="#BEBEBE"/>
<circle cx="408.4" cy="203.3" r="2.5" fill="#BEBEBE"/>
<circle cx="408.4" cy="206.9" r="2.5" fill="#BEBEBE"/>
<circle cx="414.9" cy="208.3" r="2.5" fill="#BEBEBE"/>
<circle cx="417.3" cy="200.7" r="2.5" fill="#BEBEBE"/>
<circle cx="424.3" cy="187.1" r="2.5" fill="#BEBEBE"/>
<circle cx="427.9" cy="172.7" r="2.5" fill="#BEBEBE"/>
<circle cx="426.4" cy="196.1" r="2.5" fill="#BEBEBE"/>
<circle cx="425.0" cy="199.7" r="2.5" fill="#BEBEBE"/>
<circle cx="423.5" cy="203.3" r="2.5" fill="#BEBEBE"/>
<circle cx="428.6" cy="206.2" r="2.5" fill="#BEBEBE"/>
<circle cx="434.4" cy="189.9" r="2.5" fill="#BEBEBE"/>
<circle cx="427.1" cy="195.7" r="2.5" fill="#BEBEBE"/>
<circle cx="425.8" cy="198.2" r="2.5" fill="#BEBEBE"/>
<circle cx="423.7" cy="203.3" r="2.5" fill="#BEBEBE"/>
<circle cx="417.5" cy="200.8" r="2.5" fill="#BEBEBE"/>
<circle cx="415.0" cy="209.0" r="2.5" fill="#BEBEBE"/>
<circle cx="429.6" cy="209.0" r="2.5" fill="#BEBEBE"/>
<circle cx="424.6" cy="210.7" r="2.5" fill="#BEBEBE"/>
<circle cx="441.1" cy="214.1" r="2.5" fill="#BEBEBE"/>
<circle cx="416.3" cy="216.1" r="2.5" fill="#BEBEBE"/>
<circle cx="421.4" cy="216.1" r="2.5" fill="#BEBEBE"/>
<circle cx="427.1" cy="219.2" r="2.5" fill="#BEBEBE"/>
<circle cx="423.9" cy="221.8" r="2.5" fill="#BEBEBE"/>
<circle cx="418.2" cy="224.3" r="2.5" fill="#BEBEBE"/>
<circle cx="416.9" cy="229.4" r="2.5" fill="#BEBEBE"/>
<circle cx="362.7" cy="197.3" r="2.5" fill="#BEBEBE"/>
<circle cx="360.5" cy="200.5" r="2.5" fill="#BEBEBE"/>
<circle cx="365.9" cy="205.6" r="2.5" fill="#BEBEBE"/>
<circle cx="367.8" cy="208.8" r="2.5" fill="#BEBEBE"/>
<circle cx="372.2" cy="194.1" r="2.5" fill="#BEBEBE"/>
<circle cx="369.7" cy="176.9" r="2.5" fill="#BEBEBE"/>
<circle cx="364.6" cy="224.0" r="2.5" fill="#BEBEBE"/>
<circle cx="362.7" cy="226.6" r="2.5" fill="#BEBEBE"/>
<circle cx="369.7" cy="236.1" r="2.5" fill="#BEBEBE"/>
<circle cx="373.0" cy="220.9" r="2.5" fill="#BEBEBE"/>
<circle cx="376.5" cy="221.5" r="2.5" fill="#BEBEBE"/>
<circle cx="378.7" cy="221.0" r="2.5" fill="#BEBEBE"/>
<circle cx="381.6" cy="220.9" r="2.5" fill="#BEBEBE"/>
<circle cx="385.4" cy="221.5" r="2.5" fill="#BEBEBE"/>
<circle cx="372.7" cy="224.6" r="2.5" fill="#BEBEBE"/>
<circle cx="376.5" cy="223.6" r="2.5" fill="#BEBEBE"/>
<circle cx="378.7" cy="224.3" r="2.5" fill="#BEBEBE"/>
<circle cx="381.7" cy="223.5" r="2.5" fill="#BEBEBE"/>
<circle cx="385.4" cy="223.9" r="2.5" fill="#BEBEBE"/>
<circle cx="372.6" cy="226.9" r="2.5" fill="#BEBEBE"/>
<circle cx="376.3" cy="226.9" r="2.5" fill="#BEBEBE"/>
<circle cx="378.6" cy="226.6" r="2.5" fill="#BEBEBE"/>
<circle cx="382.0" cy="226.4" r="2.5" fill="#BEBEBE"/>
<circle cx="385.5" cy="227.4" r="2.5" fill="#BEBEBE"/>
<circle cx="373.6" cy="229.4" r="2.5" fill="#BEBEBE"/>
<circle cx="376.1" cy="230.3" r="2.5" fill="#BEBEBE"/>
<circle cx="378.7" cy="229.9" r="2.5" fill="#BEBEBE"/>
<circle cx="381.5" cy="229.6" r="2.5" fill="#BEBEBE"/>
<circle cx="384.9" cy="229.5" r="2.5" fill="#BEBEBE"/>
<circle cx="370.3" cy="232.5" r="2.5" fill="#BEBEBE"/>
<circle cx="373.6" cy="233.5" r="2.5" fill="#BEBEBE"/>
<circle cx="375.5" cy="233.5" r="2.5" fill="#BEBEBE"/>
<circle cx="378.9" cy="233.0" r="2.5" fill="#BEBEBE"/>
<circle cx="382.6" cy="232.7" r="2.5" fill="#BEBEBE"/>
<circle cx="385.0" cy="233.5" r="2.5" fill="#BEBEBE"/>
<circle cx="370.5" cy="236.5" r="2.5" fill="#BEBEBE"/>
<circle cx="372.4" cy="235.5" r="2.5" fill="#BEBEBE"/>
<circle cx="375.7" cy="235.9" r="2.5" fill="#BEBEBE"/>
<circle cx="379.1" cy="235.5" r="2.5" fill="#BEBEBE"/>
<circle cx="382.0" cy="235.5" r="2.5" fill="#BEBEBE"/>
<circle cx="384.5" cy="236.2" r="2.5" fill="#BEBEBE"/>
<circle cx="388.1" cy="236.2" r="2.5" fill="#BEBEBE"/>
<circle cx="373.3" cy="239.2" r="2.5" fill="#BEBEBE"/>
<circle cx="375.7" cy="238.6" r="2.5" fill="#BEBEBE"/>
<circle cx="378.8" cy="239.3" r="2.5" fill="#BEBEBE"/>
<circle cx="381.8" cy="238.5" r="2.5" fill="#BEBEBE"/>
<circle cx="385.3" cy="239.1" r="2.5" fill="#BEBEBE"/>
<circle cx="388.5" cy="239.5" r="2.5" fill="#BEBEBE"/>
<circle cx="375.6" cy="242.3" r="2.5" fill="#BEBEBE"/>
<circle cx="379.2" cy="241.7" r="2.5" fill="#BEBEBE"/>
<circle cx="381.7" cy="242.3" r="2.5" fill="#BEBEBE"/>
<circle cx="385.0" cy="242.3" r="2.5" fill="#BEBEBE"/>
<circle cx="387.9" cy="241.8" r="2.5" fill="#BEBEBE"/>
<circle cx="378.6" cy="244.7" r="2.5" fill="#BEBEBE"/>
<circle cx="381.7" cy="245.3" r="2.5" fill="#BEBEBE"/>
<circle cx="385.1" cy="244.7" r="2.5" fill="#BEBEBE"/>
<circle cx="387.6" cy="244.7" r="2.5" fill="#BEBEBE"/>
<circle cx="382.4" cy="248.4" r="2.5" fill="#BEBEBE"/>
<circle cx="384.5" cy="247.7" r="2.5" fill="#BEBEBE"/>
<circle cx="388.3" cy="247.5" r="2.5" fill="#BEBEBE"/>
<circle cx="387.7" cy="250.6" r="2.5" fill="#BEBEBE"/>
<circle cx="397.2" cy="224.1" r="2.5" fill="#BEBEBE"/>
<circle cx="402.7" cy="224.4" r="2.5" fill="#BEBEBE"/>
<circle cx="396.8" cy="226.6" r="2.5" fill="#BEBEBE"/>
<circle cx="400.0" cy="226.6" r="2.5" fill="#BEBEBE"/>
<circle cx="402.5" cy="226.5" r="2.5" fill="#BEBEBE"/>
<circle cx="405.5" cy="227.2" r="2.5" fill="#BEBEBE"/>
<circle cx="408.5" cy="226.9" r="2.5" fill="#BEBEBE"/>
<circle cx="412.3" cy="227.0" r="2.5" fill="#BEBEBE"/>
<circle cx="414.6" cy="227.4" r="2.5" fill="#BEBEBE"/>
<circle cx="396.5" cy="230.3" r="2.5" fill="#BEBEBE"/>
<circle cx="399.5" cy="229.5" r="2.5" fill="#BEBEBE"/>
<circle cx="402.7" cy="230.3" r="2.5" fill="#BEBEBE"/>
<circle cx="406.6" cy="229.5" r="2.5" fill="#BEBEBE"/>
<circle cx="408.8" cy="229.4" r="2.5" fill="#BEBEBE"/>
<circle cx="412.1" cy="230.0" r="2.5" fill="#BEBEBE"/>
<circle cx="414.8" cy="229.8" r="2.5" fill="#BEBEBE"/>
<circle cx="396.6" cy="233.4" r="2.5" fill="#BEBEBE"/>
<circle cx="400.0" cy="232.9" r="2.5" fill="#BEBEBE"/>
<circle cx="403.4" cy="232.9" r="2.5" fill="#BEBEBE"/>
<circle cx="405.5" cy="233.1" r="2.5" fill="#BEBEBE"/>
<circle cx="409.2" cy="233.1" r="2.5" fill="#BEBEBE"/>
<circle cx="411.7" cy="233.5" r="2.5" fill="#BEBEBE"/>
<circle cx="393.9" cy="235.8" r="2.5" fill="#BEBEBE"/>
<circle cx="397.2" cy="236.4" r="2.5" fill="#BEBEBE"/>
<circle cx="399.8" cy="236.2" r="2.5" fill="#BEBEBE"/>
<circle cx="402.8" cy="235.7" r="2.5" fill="#BEBEBE"/>
<circle cx="406.5" cy="235.8" r="2.5" fill="#BEBEBE"/>
<circle cx="408.5" cy="235.8" r="2.5" fill="#BEBEBE"/>
<circle cx="412.3" cy="235.7" r="2.5" fill="#BEBEBE"/>
<circle cx="394.2" cy="238.7" r="2.5" fill="#BEBEBE"/>
<circle cx="397.1" cy="239.5" r="2.5" fill="#BEBEBE"/>
<circle cx="400.4" cy="239.2" r="2.5" fill="#BEBEBE"/>
<circle cx="403.0" cy="239.1" r="2.5" fill="#BEBEBE"/>
<circle cx="405.5" cy="239.4" r="2.5" fill="#BEBEBE"/>
<circle cx="393.9" cy="242.0" r="2.5" fill="#BEBEBE"/>
<circle cx="397.4" cy="241.6" r="2.5" fill="#BEBEBE"/>
<circle cx="399.7" cy="242.2" r="2.5" fill="#BEBEBE"/>
<circle cx="402.5" cy="242.1" r="2.5" fill="#BEBEBE"/>
<circle cx="391.2" cy="245.0" r="2.5" fill="#BEBEBE"/>
<circle cx="393.6" cy="244.5" r="2.5" fill="#BEBEBE"/>
<circle cx="397.5" cy="245.1" r="2.5" fill="#BEBEBE"/>
<circle cx="399.8" cy="244.6" r="2.5" fill="#BEBEBE"/>
<circle cx="394.4" cy="248.4" r="2.5" fill="#BEBEBE"/>
<circle cx="397.1" cy="248.1" r="2.5" fill="#BEBEBE"/>
<circle cx="391.3" cy="251.3" r="2.5" fill="#BEBEBE"/>
<circle cx="393.5" cy="251.0" r="2.5" fill="#BEBEBE"/>
<circle cx="369.2" cy="213.1" r="2.5" fill="#BEBEBE"/>
<circle cx="375.4" cy="216.2" r="2.5" fill="#BEBEBE"/>
<circle cx="383.1" cy="216.2" r="2.5" fill="#BEBEBE"/>
<circle cx="380.0" cy="222.3" r="2.5" fill="#BEBEBE"/>
<circle cx="373.8" cy="223.8" r="2.5" fill="#BEBEBE"/>
<circle cx="366.2" cy="228.5" r="2.5" fill="#BEBEBE"/>
<circle cx="370.8" cy="220.8" r="2.5" fill="#BEBEBE"/>
<circle cx="401.5" cy="216.2" r="2.5" fill="#BEBEBE"/>
<circle cx="406.2" cy="220.8" r="2.5" fill="#BEBEBE"/>
<circle cx="398.5" cy="223.8" r="2.5" fill="#BEBEBE"/>
<circle cx="413.8" cy="220.8" r="2.5" fill="#BEBEBE"/>
<circle cx="421.5" cy="225.4" r="2.5" fill="#BEBEBE"/>
<circle cx="410.8" cy="230.0" r="2.5" fill="#BEBEBE"/>
<circle cx="416.9" cy="234.6" r="2.5" fill="#BEBEBE"/>
<circle cx="415.4" cy="242.3" r="2.5" fill="#BEBEBE"/>
<circle cx="390.6" cy="238.5" r="2.5" fill="#BEBEBE"/>
<circle cx="390.6" cy="241.5" r="2.5" fill="#BEBEBE"/>
<circle cx="390.6" cy="244.5" r="2.5" fill="#BEBEBE"/>
<circle cx="390.6" cy="247.5" r="2.5" fill="#BEBEBE"/>
<circle cx="390.6" cy="250.5" r="2.5" fill="#BEBEBE"/>
<circle cx="376.0" cy="205.8" r="2.5" fill="#BEBEBE"/>
<circle cx="381.1" cy="207.6" r="2.5" fill="#BEBEBE"/>
<circle cx="371.6" cy="210.2" r="2.5" fill="#BEBEBE"/>
<circle cx="377.7" cy="211.0" r="2.5" fill="#BEBEBE"/>
<circle cx="383.7" cy="211.9" r="2.5" fill="#BEBEBE"/>
<circle cx="380.3" cy="215.4" r="2.5" fill="#BEBEBE"/>
<circle cx="384.6" cy="219.7" r="2.5" fill="#BEBEBE"/>
<circle cx="366.4" cy="206.7" r="2.5" fill="#BEBEBE"/>
<circle cx="369.0" cy="210.2" r="2.5" fill="#BEBEBE"/>
<circle cx="396.7" cy="204.6" r="2.5" fill="#BEBEBE"/>
<circle cx="396.7" cy="209.3" r="2.5" fill="#BEBEBE"/>
<circle cx="399.3" cy="215.4" r="2.5" fill="#BEBEBE"/>
<circle cx="403.6" cy="211.0" r="2.5" fill="#BEBEBE"/>
<circle cx="408.8" cy="203.3" r="2.5" fill="#BEBEBE"/>
<circle cx="409.7" cy="207.6" r="2.5" fill="#BEBEBE"/>
<circle cx="413.1" cy="211.9" r="2.5" fill="#BEBEBE"/>
<circle cx="416.6" cy="216.2" r="2.5" fill="#BEBEBE"/>
<circle cx="422.7" cy="215.4" r="2.5" fill="#BEBEBE"/>
<circle cx="424.4" cy="210.2" r="2.5" fill="#BEBEBE"/>
<circle cx="429.6" cy="208.4" r="2.5" fill="#BEBEBE"/>
<circle cx="426.1" cy="218.8" r="2.5" fill="#BEBEBE"/>
<circle cx="418.3" cy="224.0" r="2.5" fill="#BEBEBE"/>
<circle cx="408.8" cy="217.1" r="2.5" fill="#BEBEBE"/>
<circle cx="317.6" cy="75.9" r="2.6" fill="#FF0000"/>
<circle cx="455.8" cy="93.9" r="2.6" fill="#FF0000"/>
<circle cx="506" cy="127.8" r="2.6" fill="#FF0000"/>
<circle cx="452.3" cy="131.0" r="2.6" fill="#FF0000"/>
<text x="319.3" y="78.1" font-family="Liberation Sans, sans-serif" font-size="6.35" fill="#1a1a1a">eca-miR-NW_019643269.1_38788</text>
<text x="427.0" y="100.6" font-family="Liberation Sans, sans-serif" font-size="6.35" fill="#1a1a1a">eca-miR-146b-5p</text>
<text x="464.3" y="128.1" font-family="Liberation Sans, sans-serif" font-size="6.35" fill="#1a1a1a">eca-miR-135b</text>
<text x="431.2" y="138.0" font-family="Liberation Sans, sans-serif" font-size="6.35" fill="#1a1a1a">eca-miR-31</text>
<line x1="308.7" y1="67.3" x2="308.7" y2="262.3" stroke="#E6E6E6" stroke-width="0.8"/>
<line x1="515.5" y1="67.3" x2="515.5" y2="262.3" stroke="#E6E6E6" stroke-width="0.8"/>
<line x1="308.7" y1="67.3" x2="515.5" y2="67.3" stroke="#B0B0B0" stroke-width="1"/>
<line x1="308.7" y1="262.3" x2="515.5" y2="262.3" stroke="#A6A6A6" stroke-width="1"/>
<line x1="306.9" y1="253.60" x2="308.7" y2="253.60" stroke="#444" stroke-width="0.6"/>
<text x="306.0" y="256.45" text-anchor="end" font-family="Liberation Sans, sans-serif" font-size="7.9" fill="#4D4D4D">0</text>
<line x1="306.9" y1="216.75" x2="308.7" y2="216.75" stroke="#444" stroke-width="0.6"/>
<text x="306.0" y="219.60" text-anchor="end" font-family="Liberation Sans, sans-serif" font-size="7.9" fill="#4D4D4D">1</text>
<line x1="306.9" y1="179.90" x2="308.7" y2="179.90" stroke="#444" stroke-width="0.6"/>
<text x="306.0" y="182.75" text-anchor="end" font-family="Liberation Sans, sans-serif" font-size="7.9" fill="#4D4D4D">2</text>
<line x1="306.9" y1="143.05" x2="308.7" y2="143.05" stroke="#444" stroke-width="0.6"/>
<text x="306.0" y="145.90" text-anchor="end" font-family="Liberation Sans, sans-serif" font-size="7.9" fill="#4D4D4D">3</text>
<line x1="306.9" y1="106.20" x2="308.7" y2="106.20" stroke="#444" stroke-width="0.6"/>
<text x="306.0" y="109.05" text-anchor="end" font-family="Liberation Sans, sans-serif" font-size="7.9" fill="#4D4D4D">4</text>
<line x1="306.9" y1="69.35" x2="308.7" y2="69.35" stroke="#444" stroke-width="0.6"/>
<text x="306.0" y="72.20" text-anchor="end" font-family="Liberation Sans, sans-serif" font-size="7.9" fill="#4D4D4D">5</text>
<line x1="334.30" y1="262.3" x2="334.30" y2="264.1" stroke="#444" stroke-width="0.6"/>
<text x="334.30" y="271.20" text-anchor="middle" font-family="Liberation Sans, sans-serif" font-size="7.9" fill="#4D4D4D">-2</text>
<line x1="390.80" y1="262.3" x2="390.80" y2="264.1" stroke="#444" stroke-width="0.6"/>
<text x="390.80" y="271.20" text-anchor="middle" font-family="Liberation Sans, sans-serif" font-size="7.9" fill="#4D4D4D">0</text>
<line x1="447.30" y1="262.3" x2="447.30" y2="264.1" stroke="#444" stroke-width="0.6"/>
<text x="447.30" y="271.20" text-anchor="middle" font-family="Liberation Sans, sans-serif" font-size="7.9" fill="#4D4D4D">2</text>
<line x1="503.80" y1="262.3" x2="503.80" y2="264.1" stroke="#444" stroke-width="0.6"/>
<text x="503.80" y="271.20" text-anchor="middle" font-family="Liberation Sans, sans-serif" font-size="7.9" fill="#4D4D4D">4</text>
<text x="412" y="280.6" text-anchor="middle" font-family="Liberation Sans, sans-serif" font-size="9.8" fill="#000">log2FoldChange</text>
<text transform="translate(299.8,164.5) scale(1.06,1) rotate(-90)" text-anchor="middle" font-family="Liberation Sans, sans-serif" font-size="9.8" fill="#000">-log10(pvalue)</text>
<text x="310.7" y="299.2" font-family="Liberation Sans, sans-serif" font-size="9.7" fill="#000">Significant</text>
<circle cx="364.9" cy="294.7" r="1.0" fill="#FF0000"/>
<circle cx="423.5" cy="294.7" r="1.0" fill="#BEBEBE"/>
<text x="374.1" y="297.5" font-family="Liberation Sans, sans-serif" font-size="7.7" fill="#000">FDR &lt; 0.05</text>
<text x="432.7" y="297.5" font-family="Liberation Sans, sans-serif" font-size="7.7" fill="#000">Not Sig</text>
<rect x="62.30" y="336.80" width="6.17" height="181.00" fill="#BEBEBE" stroke="#3a3a3a" stroke-width="0.55"/>
<rect x="68.47" y="336.80" width="6.17" height="181.00" fill="#BEBEBE" stroke="#3a3a3a" stroke-width="0.55"/>
<rect x="74.64" y="322.32" width="6.17" height="195.48" fill="#BEBEBE" stroke="#3a3a3a" stroke-width="0.55"/>
<rect x="80.81" y="423.68" width="6.17" height="94.12" fill="#BEBEBE" stroke="#3a3a3a" stroke-width="0.55"/>
<rect x="86.98" y="401.96" width="6.17" height="115.84" fill="#BEBEBE" stroke="#3a3a3a" stroke-width="0.55"/>
<rect x="93.15" y="430.92" width="6.17" height="86.88" fill="#BEBEBE" stroke="#3a3a3a" stroke-width="0.55"/>
<rect x="99.32" y="387.48" width="6.17" height="130.32" fill="#BEBEBE" stroke="#3a3a3a" stroke-width="0.55"/>
<rect x="105.49" y="430.92" width="6.17" height="86.88" fill="#BEBEBE" stroke="#3a3a3a" stroke-width="0.55"/>
<rect x="111.66" y="416.44" width="6.17" height="101.36" fill="#BEBEBE" stroke="#3a3a3a" stroke-width="0.55"/>
<rect x="117.83" y="438.16" width="6.17" height="79.64" fill="#BEBEBE" stroke="#3a3a3a" stroke-width="0.55"/>
<rect x="124.00" y="409.20" width="6.17" height="108.60" fill="#BEBEBE" stroke="#3a3a3a" stroke-width="0.55"/>
<rect x="130.17" y="459.88" width="6.17" height="57.92" fill="#BEBEBE" stroke="#3a3a3a" stroke-width="0.55"/>
<rect x="136.34" y="423.68" width="6.17" height="94.12" fill="#BEBEBE" stroke="#3a3a3a" stroke-width="0.55"/>
<rect x="142.51" y="438.16" width="6.17" height="79.64" fill="#BEBEBE" stroke="#3a3a3a" stroke-width="0.55"/>
<rect x="148.68" y="452.64" width="6.17" height="65.16" fill="#BEBEBE" stroke="#3a3a3a" stroke-width="0.55"/>
<rect x="154.85" y="401.96" width="6.17" height="115.84" fill="#BEBEBE" stroke="#3a3a3a" stroke-width="0.55"/>
<rect x="161.02" y="438.16" width="6.17" height="79.64" fill="#BEBEBE" stroke="#3a3a3a" stroke-width="0.55"/>
<rect x="167.19" y="459.88" width="6.17" height="57.92" fill="#BEBEBE" stroke="#3a3a3a" stroke-width="0.55"/>
<rect x="173.36" y="423.68" width="6.17" height="94.12" fill="#BEBEBE" stroke="#3a3a3a" stroke-width="0.55"/>
<rect x="179.53" y="401.96" width="6.17" height="115.84" fill="#BEBEBE" stroke="#3a3a3a" stroke-width="0.55"/>
<rect x="185.70" y="438.16" width="6.17" height="79.64" fill="#BEBEBE" stroke="#3a3a3a" stroke-width="0.55"/>
<rect x="191.87" y="409.20" width="6.17" height="108.60" fill="#BEBEBE" stroke="#3a3a3a" stroke-width="0.55"/>
<rect x="198.04" y="445.40" width="6.17" height="72.40" fill="#BEBEBE" stroke="#3a3a3a" stroke-width="0.55"/>
<rect x="204.21" y="467.12" width="6.17" height="50.68" fill="#BEBEBE" stroke="#3a3a3a" stroke-width="0.55"/>
<rect x="210.38" y="496.08" width="6.17" height="21.72" fill="#BEBEBE" stroke="#3a3a3a" stroke-width="0.55"/>
<rect x="216.55" y="409.20" width="6.17" height="108.60" fill="#BEBEBE" stroke="#3a3a3a" stroke-width="0.55"/>
<rect x="222.72" y="445.40" width="6.17" height="72.40" fill="#BEBEBE" stroke="#3a3a3a" stroke-width="0.55"/>
<rect x="228.89" y="452.64" width="6.17" height="65.16" fill="#BEBEBE" stroke="#3a3a3a" stroke-width="0.55"/>
<rect x="235.06" y="438.16" width="6.17" height="79.64" fill="#BEBEBE" stroke="#3a3a3a" stroke-width="0.55"/>
<rect x="241.23" y="481.60" width="6.17" height="36.20" fill="#BEBEBE" stroke="#3a3a3a" stroke-width="0.55"/>
<line x1="53.4" y1="312" x2="53.4" y2="527.3" stroke="#333" stroke-width="0.55"/>
<line x1="53.4" y1="527.3" x2="256.5" y2="527.3" stroke="#333" stroke-width="0.55"/>
<line x1="51.6" y1="517.80" x2="53.4" y2="517.80" stroke="#333" stroke-width="0.5"/>
<text x="50.7" y="520.60" text-anchor="end" font-family="Liberation Sans, sans-serif" font-size="7.9" fill="#4D4D4D">0</text>
<line x1="51.6" y1="445.40" x2="53.4" y2="445.40" stroke="#333" stroke-width="0.5"/>
<text x="50.7" y="448.20" text-anchor="end" font-family="Liberation Sans, sans-serif" font-size="7.9" fill="#4D4D4D">10</text>
<line x1="51.6" y1="373.00" x2="53.4" y2="373.00" stroke="#333" stroke-width="0.5"/>
<text x="50.7" y="375.80" text-anchor="end" font-family="Liberation Sans, sans-serif" font-size="7.9" fill="#4D4D4D">20</text>
<line x1="65.40" y1="527.3" x2="65.40" y2="529.1" stroke="#333" stroke-width="0.5"/>
<text x="65.40" y="536.2" text-anchor="middle" font-family="Liberation Sans, sans-serif" font-size="7.9" fill="#4D4D4D">0.00</text>
<line x1="110.30" y1="527.3" x2="110.30" y2="529.1" stroke="#333" stroke-width="0.5"/>
<text x="110.30" y="536.2" text-anchor="middle" font-family="Liberation Sans, sans-serif" font-size="7.9" fill="#4D4D4D">0.25</text>
<line x1="155.20" y1="527.3" x2="155.20" y2="529.1" stroke="#333" stroke-width="0.5"/>
<text x="155.20" y="536.2" text-anchor="middle" font-family="Liberation Sans, sans-serif" font-size="7.9" fill="#4D4D4D">0.50</text>
<line x1="200.10" y1="527.3" x2="200.10" y2="529.1" stroke="#333" stroke-width="0.5"/>
<text x="200.10" y="536.2" text-anchor="middle" font-family="Liberation Sans, sans-serif" font-size="7.9" fill="#4D4D4D">0.75</text>
<line x1="245.00" y1="527.3" x2="245.00" y2="529.1" stroke="#333" stroke-width="0.5"/>
<text x="245.00" y="536.2" text-anchor="middle" font-family="Liberation Sans, sans-serif" font-size="7.9" fill="#4D4D4D">1.00</text>
<text x="155" y="545.4" text-anchor="middle" font-family="Liberation Sans, sans-serif" font-size="9.6" fill="#000">pvalue</text>
<text transform="translate(39.4,420) scale(1.06,1) rotate(-90)" text-anchor="middle" font-family="Liberation Sans, sans-serif" font-size="9.6" fill="#000">count</text>
</svg></body></html>
